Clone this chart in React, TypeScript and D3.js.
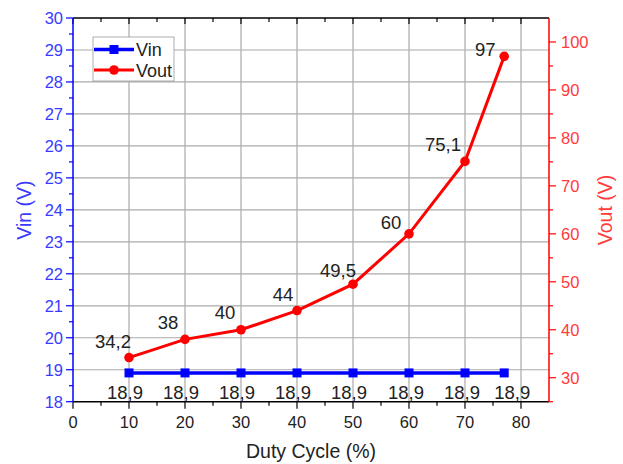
import React from "react";
import * as d3 from "d3";

const duty = [10, 20, 30, 40, 50, 60, 70, 77];
const vin = [18.9, 18.9, 18.9, 18.9, 18.9, 18.9, 18.9, 18.9];
const vout = [34.2, 38, 40, 44, 49.5, 60, 75.1, 97];
const vinLabels = ["18,9", "18,9", "18,9", "18,9", "18,9", "18,9", "18,9", "18,9"];
const voutLabels = ["34,2", "38", "40", "44", "49,5", "60", "75,1", "97"];
const xTicks = [0, 10, 20, 30, 40, 50, 60, 70, 80];
const yLeftTicks = [18, 19, 20, 21, 22, 23, 24, 25, 26, 27, 28, 29, 30];
const yRightTicks = [30, 40, 50, 60, 70, 80, 90, 100];

// label offsets (px) relative to the point
const voutDx = [-16, -17, -16, -14, -15, -18, -22, -19];
const voutDy = [-10, -10, -11, -10, -7, -5, -10, 0];
const vinDx = [-4, -4, -4, -4, -4, -3, -3, 8];

const W = 623, H = 464;
const L = 73, R = 549, T = 18, B = 401.7;
const FONT = "Liberation Sans, Arial, sans-serif";
const BLUE = "#0000ff", BLUE_T = "#3a3aff";
const RED = "#ff0000", RED_T = "#ff3a3a";

export default function App() {
  const x = d3.scaleLinear().domain([0, 85]).range([L, R]);
  const yL = d3.scaleLinear().domain([18, 30]).range([B, T]);
  const yR = d3.scaleLinear().domain([25, 105]).range([B, T]);

  const xMinor = d3.range(5, 85, 10);
  const yLMinor = d3.range(18.5, 30, 1);
  const yRMinor = d3.range(25, 105, 10);

  const lineVin = d3.line<number>().x((_, i) => x(duty[i])).y((d) => yL(d));
  const lineVout = d3.line<number>().x((_, i) => x(duty[i])).y((d) => yR(d));

  return (
    <div style={{ position: "fixed", left: 0, top: 0 }}>
      <svg width={W} height={H} style={{ display: "block", background: "#fff" }} fontFamily={FONT}>
        {/* grid */}
        {xTicks.filter((t) => t > 0).map((t) => (
          <line key={"gx" + t} x1={x(t)} x2={x(t)} y1={T} y2={B} stroke="#aaaaaa" strokeWidth={1.2} />
        ))}
        {yLeftTicks.filter((t) => t > 18 && t < 30).map((t) => (
          <line key={"gy" + t} x1={L} x2={R} y1={yL(t)} y2={yL(t)} stroke="#aaaaaa" strokeWidth={1.2} />
        ))}

        {/* top frame */}
        <line x1={L} x2={R} y1={T} y2={T} stroke="#000" strokeWidth={1.5} />
        {xTicks.map((t) => (
          <line key={"tt" + t} x1={x(t)} x2={x(t)} y1={T} y2={T + 6} stroke="#000" strokeWidth={1.2} />
        ))}
        {xMinor.map((t) => (
          <line key={"ttm" + t} x1={x(t)} x2={x(t)} y1={T} y2={T + 4} stroke="#000" strokeWidth={1.2} />
        ))}

        {/* bottom axis */}
        <line x1={L} x2={R} y1={B} y2={B} stroke="#000" strokeWidth={1.5} />
        {xTicks.map((t) => (
          <g key={"bx" + t}>
            <line x1={x(t)} x2={x(t)} y1={B} y2={B + 7} stroke="#000" strokeWidth={1.2} />
            <text x={x(t)} y={B + 26} textAnchor="middle" fontSize={16.5} fill="#222">{t}</text>
          </g>
        ))}
        {xMinor.map((t) => (
          <line key={"bxm" + t} x1={x(t)} x2={x(t)} y1={B} y2={B + 4} stroke="#000" strokeWidth={1.2} />
        ))}
        <text x={311} y={458} textAnchor="middle" fontSize={19.5} fill="#222">Duty Cycle (%)</text>

        {/* left axis */}
        <line x1={L} x2={L} y1={T} y2={B} stroke={BLUE} strokeWidth={1.5} />
        {yLeftTicks.map((t) => (
          <g key={"yl" + t}>
            <line x1={L - 7} x2={L} y1={yL(t)} y2={yL(t)} stroke={BLUE} strokeWidth={1.2} />
            <text x={L - 10} y={yL(t) + 6} textAnchor="end" fontSize={16.5} fill={BLUE_T}>{t}</text>
          </g>
        ))}
        {yLMinor.map((t) => (
          <line key={"ylm" + t} x1={L - 4} x2={L} y1={yL(t)} y2={yL(t)} stroke={BLUE} strokeWidth={1.2} />
        ))}
        <text transform={`translate(31,210) rotate(-90)`} textAnchor="middle" fontSize={19.5} fill={BLUE_T}>Vin (V)</text>

        {/* right axis */}
        <line x1={R} x2={R} y1={T} y2={B} stroke={RED} strokeWidth={1.5} />
        {yRightTicks.map((t) => (
          <g key={"yr" + t}>
            <line x1={R} x2={R + 7} y1={yR(t)} y2={yR(t)} stroke={RED} strokeWidth={1.2} />
            <text x={R + 12} y={yR(t) + 6} textAnchor="start" fontSize={16.5} fill={RED_T}>{t}</text>
          </g>
        ))}
        {yRMinor.map((t) => (
          <line key={"yrm" + t} x1={R} x2={R + 4} y1={yR(t)} y2={yR(t)} stroke={RED} strokeWidth={1.2} />
        ))}
        <text transform={`translate(612,210) rotate(-90)`} textAnchor="middle" fontSize={19.5} fill={RED_T}>Vout (V)</text>

        {/* Vin series */}
        <path d={lineVin(vin) || ""} fill="none" stroke={BLUE} strokeWidth={3.5} />
        {vin.map((v, i) => (
          <rect key={"vs" + i} x={x(duty[i]) - 4.5} y={yL(v) - 4.5} width={9} height={9} fill={BLUE} />
        ))}
        {vin.map((v, i) => (
          <text key={"vl" + i} x={x(duty[i]) + vinDx[i]} y={yL(v) + 26} textAnchor="middle" fontSize={18.5} fill="#222">{vinLabels[i]}</text>
        ))}

        {/* Vout series */}
        <path d={lineVout(vout) || ""} fill="none" stroke={RED} strokeWidth={3} />
        {vout.map((v, i) => (
          <circle key={"os" + i} cx={x(duty[i])} cy={yR(v)} r={4.8} fill={RED} />
        ))}
        {vout.map((v, i) => (
          <text key={"ol" + i} x={x(duty[i]) + voutDx[i]} y={yR(v) + voutDy[i]} textAnchor="middle" fontSize={18.5} fill="#222">{voutLabels[i]}</text>
        ))}

        {/* legend */}
        <rect x={93} y={37} width={81} height={44} fill="#fff" stroke="#999" strokeWidth={0.8} />
        <line x1={94} x2={134} y1={49.5} y2={49.5} stroke={BLUE} strokeWidth={3.5} />
        <rect x={109.5} y={45} width={9} height={9} fill={BLUE} />
        <text x={136} y={56} fontSize={18} fill="#222">Vin</text>
        <line x1={94} x2={134} y1={70} y2={70} stroke={RED} strokeWidth={3} />
        <circle cx={114} cy={70} r={4.8} fill={RED} />
        <text x={136} y={76.5} fontSize={18} fill="#222">Vout</text>
      </svg>
    </div>
  );
}
